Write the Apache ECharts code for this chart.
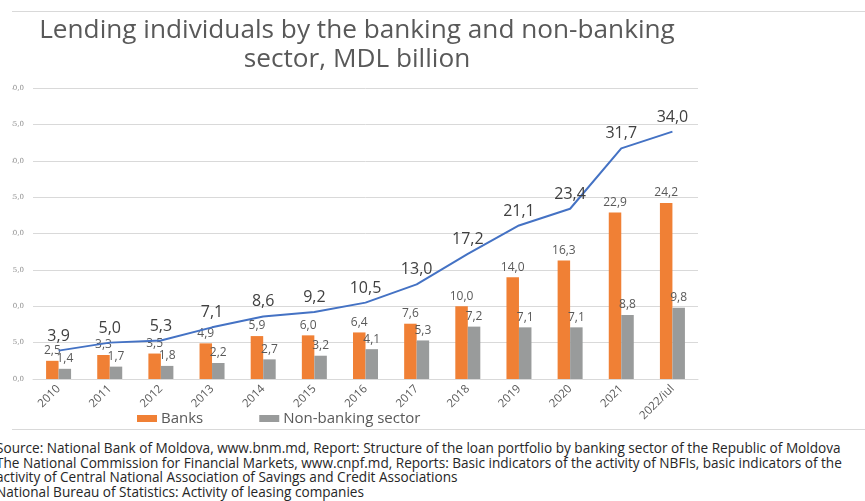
<!DOCTYPE html>
<html>
<head>
<meta charset="utf-8">
<script src="https://cdn.jsdelivr.net/npm/echarts@6/dist/echarts.min.js"></script>
<style>
  html, body { margin: 0; padding: 0; background: #fff; overflow: hidden; }
  body { width: 865px; height: 501px; position: relative; font-family: "Open Sans", sans-serif; }
  /* chart panel: its left edge is trimmed at x = 12 */
  #panel { position: absolute; left: 12px; top: 0; width: 853px; height: 436px; overflow: hidden; }
  #chart { position: absolute; left: -12px; top: 0; width: 865px; height: 436px; }
  /* source notes, trimmed at the page edge */
  #notes { position: absolute; left: 0; top: 436px; width: 865px; height: 65px; overflow: hidden; }
  #notes div { position: absolute; left: -4px; white-space: nowrap; font-size: 13.6px; line-height: 15px; color: #262626; }
</style>
</head>
<body>
<div id="panel"><div id="chart"></div></div>
<div id="notes"></div>
<script>
const categories = ['2010', '2011', '2012', '2013', '2014', '2015', '2016', '2017', '2018', '2019', '2020', '2021', '2022/iul'];
const banks = [2.5, 3.3, 3.5, 4.9, 5.9, 6.0, 6.4, 7.6, 10.0, 14.0, 16.3, 22.9, 24.2];
const nonBanking = [1.4, 1.7, 1.8, 2.2, 2.7, 3.2, 4.1, 5.3, 7.2, 7.1, 7.1, 8.8, 9.8];
const total = [3.9, 5.0, 5.3, 7.1, 8.6, 9.2, 10.5, 13.0, 17.2, 21.1, 23.4, 31.7, 34.0];

const titleLines = ['Lending individuals by the banking and non-banking', 'sector, MDL billion'];
const sourceLines = [
  'Source: National Bank of Moldova, www.bnm.md, Report: Structure of the loan portfolio by banking sector of the Republic of Moldova',
  'The National Commission for Financial Markets, www.cnpf.md, Reports: Basic indicators of the activity of NBFIs, basic indicators of the',
  'activity of Central National Association of Savings and Credit Associations',
  'National Bureau of Statistics: Activity of leasing companies'
];

const fmt = v => v.toFixed(1).replace('.', ',');
const FONT = '"Open Sans", sans-serif';

// source notes below the chart
const notes = document.getElementById('notes');
sourceLines.forEach((t, i) => {
  const d = document.createElement('div');
  d.textContent = t;
  d.style.top = (4 + i * 14.6) + 'px';
  notes.appendChild(d);
});

const chart = echarts.init(document.getElementById('chart'), null, { renderer: 'canvas' });

const graphics = [
  { type: 'line', shape: { x1: 7, y1: 11.5, x2: 865, y2: 11.5 }, style: { stroke: '#d9d9d9', lineWidth: 1 }, silent: true },
  { type: 'line', shape: { x1: 11, y1: 429.5, x2: 865, y2: 429.5 }, style: { stroke: '#d9d9d9', lineWidth: 1 }, silent: true }
];
titleLines.forEach((t, i) => {
  graphics.push({
    type: 'text', x: 357, y: 31 + i * 29,
    style: { text: t, fill: '#595959', font: '26.2px ' + FONT, textAlign: 'center', textVerticalAlign: 'middle' }
  });
});

chart.setOption({
  backgroundColor: '#ffffff',
  animation: false,
  textStyle: { fontFamily: FONT },
  grid: { left: 33, right: 167, top: 88, bottom: 57, containLabel: false },
  legend: {
    data: ['Banks', 'Non-banking sector'],
    left: 137, top: 411, padding: 0,
    itemWidth: 20, itemHeight: 7, itemGap: 56,
    icon: 'rect',
    textStyle: { color: '#595959', fontSize: 15, fontFamily: FONT, padding: [0, 0, 0, -1] }
  },
  xAxis: {
    type: 'category',
    data: categories,
    axisLine: { lineStyle: { color: '#d9d9d9' } },
    axisTick: { show: false },
    axisLabel: { rotate: 45, interval: 0, margin: 8, color: '#595959', fontSize: 11.5, fontFamily: FONT }
  },
  yAxis: {
    type: 'value',
    min: 0, max: 40, interval: 5,
    axisLine: { show: false },
    axisTick: { show: false },
    splitLine: { lineStyle: { color: '#d9d9d9' } },
    axisLabel: { margin: 9, color: '#8c8c8c', fontSize: 7, fontFamily: 'DejaVu Serif', formatter: v => fmt(v) }
  },
  series: [
    {
      name: 'Banks', type: 'bar', data: banks,
      barWidth: 12.5, barGap: '0%',
      itemStyle: { color: '#f08035' },
      label: { show: true, position: 'top', distance: 4, color: '#595959', fontSize: 12, fontFamily: FONT, formatter: p => fmt(p.value) }
    },
    {
      name: 'Non-banking sector', type: 'bar', data: nonBanking,
      barWidth: 12.5, barGap: '0%',
      itemStyle: { color: '#999b9b' },
      label: { show: true, position: 'top', distance: 4, color: '#595959', fontSize: 12, fontFamily: FONT, formatter: p => fmt(p.value) }
    },
    {
      name: 'Total', type: 'line', data: total, z: 5,
      symbol: 'circle', symbolSize: 1, showSymbol: true,
      itemStyle: { color: 'rgba(68,114,196,0)' },
      lineStyle: { color: '#4472c4', width: 2 },
      label: { show: true, position: 'top', distance: 6, color: '#404040', fontSize: 16, fontFamily: FONT, formatter: p => fmt(p.value) }
    }
  ],
  graphic: graphics
});
</script>
</body>
</html>
